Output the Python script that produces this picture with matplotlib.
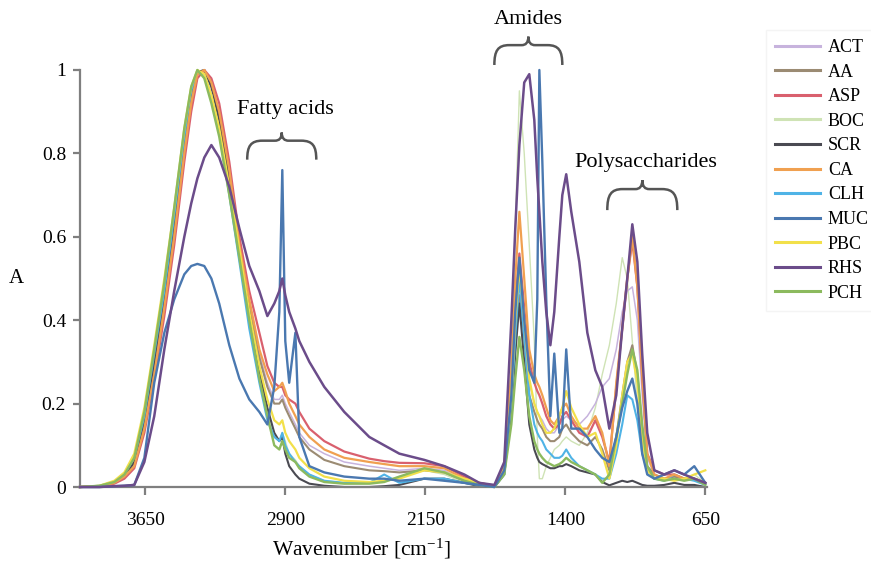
import numpy as np
import matplotlib
matplotlib.use("Agg")
import matplotlib.pyplot as plt
from matplotlib.path import Path
from matplotlib.patches import PathPatch

plt.rcParams['font.family'] = ['Liberation Serif', 'DejaVu Serif']
plt.rcParams['mathtext.default'] = 'regular'

# ---------------- DATA ----------------
# common wavenumber grid, cm-1
wavenumber = [4000, 3896, 3816, 3762, 3709,
              3655, 3602, 3548, 3495, 3441,
              3404, 3371, 3334, 3296, 3254,
              3200, 3146, 3093, 3039, 2996,
              2959, 2932, 2916, 2900, 2879,
              2846, 2825, 2771, 2691, 2584,
              2450, 2370, 2289, 2155, 2048,
              1941, 1861, 1780, 1727, 1689,
              1668, 1646, 1620, 1593, 1566,
              1550, 1539, 1523, 1502, 1480,
              1459, 1432, 1416, 1395, 1368,
              1325, 1282, 1239, 1202, 1164,
              1127, 1095, 1068, 1041, 1014,
              988, 961, 923, 870, 816,
              763, 709, 650]

act = [0, 0.002, 0.01, 0.025, 0.055,
       0.15, 0.28, 0.44, 0.61, 0.81,
       0.93, 0.99, 1.0, 0.97, 0.90,
       0.76, 0.58, 0.44, 0.32, 0.25,
       0.21, 0.21, 0.22, 0.20, 0.18,
       0.15, 0.13, 0.10, 0.08, 0.06,
       0.05, 0.045, 0.04, 0.045, 0.04,
       0.015, 0.005, 0.0, 0.04, 0.22,
       0.38, 0.50, 0.38, 0.25, 0.20,
       0.18, 0.17, 0.16, 0.14, 0.13,
       0.13, 0.15, 0.16, 0.17, 0.16,
       0.15, 0.17, 0.20, 0.24, 0.26,
       0.33, 0.42, 0.47, 0.48, 0.40,
       0.22, 0.07, 0.03, 0.02, 0.025,
       0.02, 0.02, 0.01]

aa = [0, 0.002, 0.01, 0.025, 0.06,
      0.15, 0.29, 0.45, 0.62, 0.82,
      0.93, 0.99, 1.0, 0.96, 0.89,
      0.75, 0.58, 0.43, 0.31, 0.24,
      0.20, 0.20, 0.21, 0.19, 0.17,
      0.14, 0.12, 0.09, 0.065, 0.05,
      0.04, 0.038, 0.035, 0.04, 0.035,
      0.015, 0.005, 0.0, 0.04, 0.20,
      0.35, 0.46, 0.36, 0.22, 0.18,
      0.16, 0.15, 0.14, 0.12, 0.11,
      0.11, 0.12, 0.14, 0.15, 0.13,
      0.11, 0.10, 0.12, 0.09, 0.04,
      0.12, 0.22, 0.30, 0.34, 0.27,
      0.14, 0.05, 0.03, 0.02, 0.025,
      0.02, 0.02, 0.01]

asp = [0, 0.002, 0.008, 0.02, 0.045,
       0.13, 0.26, 0.41, 0.58, 0.78,
       0.90, 0.98, 1.0, 0.98, 0.92,
       0.78, 0.60, 0.47, 0.37, 0.29,
       0.25, 0.24, 0.24, 0.22, 0.21,
       0.20, 0.18, 0.14, 0.11, 0.085,
       0.068, 0.062, 0.058, 0.057, 0.05,
       0.025, 0.01, 0.003, 0.045, 0.24,
       0.44, 0.56, 0.43, 0.30, 0.25,
       0.23, 0.22, 0.20, 0.17, 0.15,
       0.14, 0.15, 0.17, 0.18, 0.16,
       0.13, 0.12, 0.16, 0.12, 0.06,
       0.24, 0.38, 0.50, 0.59, 0.48,
       0.26, 0.08, 0.04, 0.03, 0.03,
       0.02, 0.02, 0.01]

boc = [0, 0.003, 0.012, 0.03, 0.07,
       0.17, 0.32, 0.48, 0.66, 0.85,
       0.95, 1.0, 0.985, 0.93, 0.85,
       0.72, 0.56, 0.41, 0.27, 0.18,
       0.12, 0.11, 0.13, 0.11, 0.08,
       0.065, 0.05, 0.03, 0.015, 0.01,
       0.01, 0.015, 0.025, 0.04, 0.03,
       0.01, 0.003, 0.0, 0.03, 0.30,
       0.62, 0.95, 0.80, 0.58, 0.35,
       0.12, 0.02, 0.02, 0.05, 0.07,
       0.09, 0.10, 0.11, 0.12, 0.11,
       0.10, 0.13, 0.19, 0.27, 0.34,
       0.44, 0.55, 0.50, 0.35, 0.20,
       0.10, 0.04, 0.02, 0.015, 0.02,
       0.02, 0.03, 0.01]

scr = [0, 0.002, 0.01, 0.025, 0.06,
       0.16, 0.30, 0.46, 0.64, 0.84,
       0.95, 0.995, 1.0, 0.96, 0.88,
       0.74, 0.58, 0.42, 0.28, 0.19,
       0.13, 0.11, 0.12, 0.08, 0.05,
       0.03, 0.02, 0.008, 0.003, 0.0,
       0.0, 0.002, 0.005, 0.02, 0.02,
       0.01, 0.002, 0.0, 0.03, 0.18,
       0.32, 0.44, 0.30, 0.15, 0.09,
       0.07, 0.06, 0.055, 0.05, 0.045,
       0.045, 0.05, 0.05, 0.055, 0.05,
       0.04, 0.035, 0.03, 0.012, 0.004,
       0.01, 0.015, 0.012, 0.015, 0.01,
       0.005, 0.003, 0.003, 0.005, 0.01,
       0.005, 0.005, 0.0]

ca = [0, 0.002, 0.01, 0.025, 0.05,
      0.14, 0.27, 0.43, 0.60, 0.80,
      0.92, 0.99, 1.0, 0.97, 0.90,
      0.76, 0.58, 0.45, 0.33, 0.27,
      0.23, 0.24, 0.25, 0.23, 0.20,
      0.17, 0.15, 0.12, 0.09, 0.07,
      0.06, 0.055, 0.05, 0.05, 0.045,
      0.02, 0.01, 0.002, 0.05, 0.28,
      0.50, 0.66, 0.50, 0.33, 0.27,
      0.25, 0.24, 0.22, 0.19, 0.16,
      0.15, 0.17, 0.19, 0.20, 0.17,
      0.14, 0.14, 0.17, 0.13, 0.05,
      0.25, 0.38, 0.50, 0.60, 0.48,
      0.27, 0.08, 0.03, 0.02, 0.03,
      0.02, 0.02, 0.01]

clh = [0, 0.003, 0.012, 0.03, 0.07,
       0.17, 0.32, 0.47, 0.65, 0.84,
       0.95, 0.995, 0.99, 0.94, 0.85,
       0.70, 0.54, 0.38, 0.25, 0.16,
       0.12, 0.11, 0.13, 0.10, 0.08,
       0.06, 0.05, 0.03, 0.015, 0.01,
       0.01, 0.03, 0.01, 0.02, 0.02,
       0.01, 0.005, 0.0, 0.03, 0.20,
       0.36, 0.50, 0.36, 0.22, 0.15,
       0.13, 0.12, 0.11, 0.09, 0.08,
       0.07, 0.07, 0.075, 0.09, 0.07,
       0.05, 0.04, 0.03, 0.02, 0.02,
       0.08, 0.15, 0.22, 0.21, 0.16,
       0.08, 0.04, 0.02, 0.015, 0.03,
       0.02, 0.015, 0.005]

muc = [0, 0, 0.002, 0.003, 0.005,
       0.07, 0.25, 0.37, 0.45, 0.51,
       0.53, 0.535, 0.53, 0.50, 0.44,
       0.34, 0.26, 0.21, 0.18, 0.15,
       0.24, 0.42, 0.76, 0.35, 0.25,
       0.37, 0.12, 0.05, 0.035, 0.025,
       0.02, 0.02, 0.015, 0.02, 0.015,
       0.01, 0.005, 0.0, 0.04, 0.22,
       0.42, 0.55, 0.40, 0.28, 0.25,
       0.45, 1.0, 0.78, 0.45, 0.17,
       0.32, 0.13, 0.14, 0.33, 0.14,
       0.14, 0.12, 0.09, 0.07, 0.06,
       0.12, 0.19, 0.23, 0.26, 0.20,
       0.08, 0.03, 0.02, 0.03, 0.04,
       0.03, 0.05, 0.01]

pbc = [0, 0.003, 0.015, 0.035, 0.08,
       0.19, 0.34, 0.50, 0.67, 0.86,
       0.96, 1.0, 0.99, 0.94, 0.86,
       0.72, 0.57, 0.42, 0.29, 0.21,
       0.16, 0.15, 0.16, 0.13, 0.11,
       0.09, 0.07, 0.045, 0.025, 0.015,
       0.012, 0.015, 0.02, 0.04, 0.035,
       0.02, 0.01, 0.0, 0.04, 0.22,
       0.40, 0.53, 0.40, 0.26, 0.20,
       0.18, 0.17, 0.15, 0.13, 0.13,
       0.14, 0.17, 0.19, 0.23, 0.19,
       0.15, 0.12, 0.13, 0.08, 0.02,
       0.10, 0.22, 0.30, 0.32, 0.25,
       0.12, 0.04, 0.02, 0.02, 0.015,
       0.02, 0.03, 0.04]

rhs = [0, 0, 0.002, 0.003, 0.005,
       0.06, 0.17, 0.33, 0.47, 0.60,
       0.68, 0.74, 0.79, 0.82, 0.79,
       0.72, 0.62, 0.53, 0.47, 0.41,
       0.44, 0.47, 0.50, 0.46, 0.42,
       0.38, 0.35, 0.30, 0.24, 0.18,
       0.12, 0.10, 0.08, 0.065, 0.05,
       0.03, 0.01, 0.005, 0.06, 0.40,
       0.62, 0.82, 0.97, 0.99, 0.88,
       0.74, 0.66, 0.54, 0.42, 0.34,
       0.42, 0.60, 0.70, 0.75, 0.66,
       0.54, 0.37, 0.28, 0.24, 0.14,
       0.22, 0.38, 0.50, 0.63, 0.54,
       0.32, 0.13, 0.04, 0.03, 0.04,
       0.03, 0.02, 0.01]

pch = [0, 0.003, 0.012, 0.03, 0.07,
       0.18, 0.33, 0.49, 0.67, 0.86,
       0.96, 1.0, 0.98, 0.92, 0.84,
       0.70, 0.55, 0.40, 0.26, 0.17,
       0.10, 0.09, 0.11, 0.09, 0.07,
       0.06, 0.045, 0.025, 0.012, 0.008,
       0.008, 0.012, 0.025, 0.045, 0.035,
       0.015, 0.005, 0.0, 0.03, 0.15,
       0.26, 0.36, 0.28, 0.17, 0.11,
       0.09, 0.08, 0.07, 0.06, 0.055,
       0.05, 0.055, 0.06, 0.07, 0.06,
       0.05, 0.04, 0.03, 0.01, 0.03,
       0.12, 0.20, 0.27, 0.33, 0.28,
       0.15, 0.05, 0.02, 0.015, 0.02,
       0.015, 0.02, 0.005]

labels = ["ACT", "AA", "ASP", "BOC", "SCR", "CA", "CLH", "MUC", "PBC", "RHS", "PCH"]
series = [act, aa, asp, boc, scr, ca, clh, muc, pbc, rhs, pch]
colors = ["#c7b3dd", "#9b8b73", "#d9606e", "#cfe3b5", "#4a4a52", "#f0a050",
          "#4fb3e6", "#4a78b0", "#f2e04a", "#6b4c8a", "#8cba5e"]
widths = [1.1, 1.5, 1.6, 1.0, 1.5, 1.6, 1.5, 1.7, 1.6, 1.8, 1.7]
zorders = [2, 2, 3, 1, 2, 3, 2, 5, 3, 6, 4]

for s in series:
    assert len(s) == len(wavenumber)


# ---------------- brace helper ----------------
def brace(ax, x_left, x_right, y_low, y_high):
    w = x_right - x_left
    h = y_high - y_low
    uv = [(0, 0), (0, 0.5), (0.05, 0.7), (0.22, 0.7),
          (0.40, 0.7),
          (0.46, 0.7), (0.5, 0.78), (0.5, 1.0),
          (0.5, 0.78), (0.54, 0.7), (0.60, 0.7),
          (0.78, 0.7),
          (0.95, 0.7), (1.0, 0.5), (1.0, 0.0)]
    codes = [Path.MOVETO, Path.CURVE4, Path.CURVE4, Path.CURVE4,
             Path.LINETO,
             Path.CURVE4, Path.CURVE4, Path.CURVE4,
             Path.CURVE4, Path.CURVE4, Path.CURVE4,
             Path.LINETO,
             Path.CURVE4, Path.CURVE4, Path.CURVE4]
    verts = [(x_left + u * w, y_low + v * h) for u, v in uv]
    patch = PathPatch(Path(verts, codes), facecolor="none", edgecolor="#555555",
                      lw=1.8, clip_on=False, zorder=7)
    ax.add_patch(patch)


# ---------------- PLOT ----------------
fig = plt.figure(figsize=(8.71, 5.64), dpi=100)
ax = fig.add_axes([0.0918, 0.1365, 0.7201, 0.7394])

for lab, s, c, lw, z in zip(labels, series, colors, widths, zorders):
    ax.plot(wavenumber, s, color=c, lw=lw, label=lab, zorder=z, clip_on=False,
            solid_joinstyle="round")

ax.set_xlim(4000, 640)
ax.set_ylim(0, 1)
ax.set_xticks([3650, 2900, 2150, 1400, 650])
ax.set_xticklabels(["3650", "2900", "2150", "1400", "650"])
ax.set_yticks([0, 0.2, 0.4, 0.6, 0.8, 1.0])
ax.set_yticklabels(["0", "0.2", "0.4", "0.6", "0.8", "1"])

for side in ["top", "right"]:
    ax.spines[side].set_visible(False)
for side in ["left", "bottom"]:
    ax.spines[side].set_color("#7f7f7f")
    ax.spines[side].set_linewidth(1.6)

ax.tick_params(axis="x", direction="out", length=6, width=1.6, color="#7f7f7f",
               labelsize=14, pad=12)
ax.tick_params(axis="y", direction="out", length=5, width=1.6, color="#7f7f7f",
               labelsize=14, pad=5)

ax.set_xlabel("Wavenumber [cm$^{-1}$]", fontsize=15.5)
ax.xaxis.set_label_coords(0.448, -0.12)
ax.set_ylabel("A", fontsize=15, rotation=0, va="center")
ax.yaxis.set_label_coords(-0.102, 0.5)

# annotations
brace(ax, 3104, 2734, 0.785, 0.85)
ax.text(2900, 0.905, "Fatty acids", fontsize=16, ha="center", va="center")
brace(ax, 1780, 1416, 1.012, 1.08)
ax.text(1598, 1.12, "Amides", fontsize=16, ha="center", va="center", clip_on=False)
brace(ax, 1175, 800, 0.664, 0.736)
ax.text(966, 0.778, "Polysaccharides", fontsize=16, ha="center", va="center")

leg = fig.legend(loc="upper left", bbox_to_anchor=(0.879, 0.947), fontsize=13,
                 frameon=True, fancybox=False, edgecolor="#f2f2f2",
                 handlelength=2.5, handletextpad=0.45, labelspacing=0.42,
                 borderpad=0.5, borderaxespad=0)
for line in leg.get_lines():
    line.set_linewidth(2.2)

fig.savefig("out.png", dpi=100)
